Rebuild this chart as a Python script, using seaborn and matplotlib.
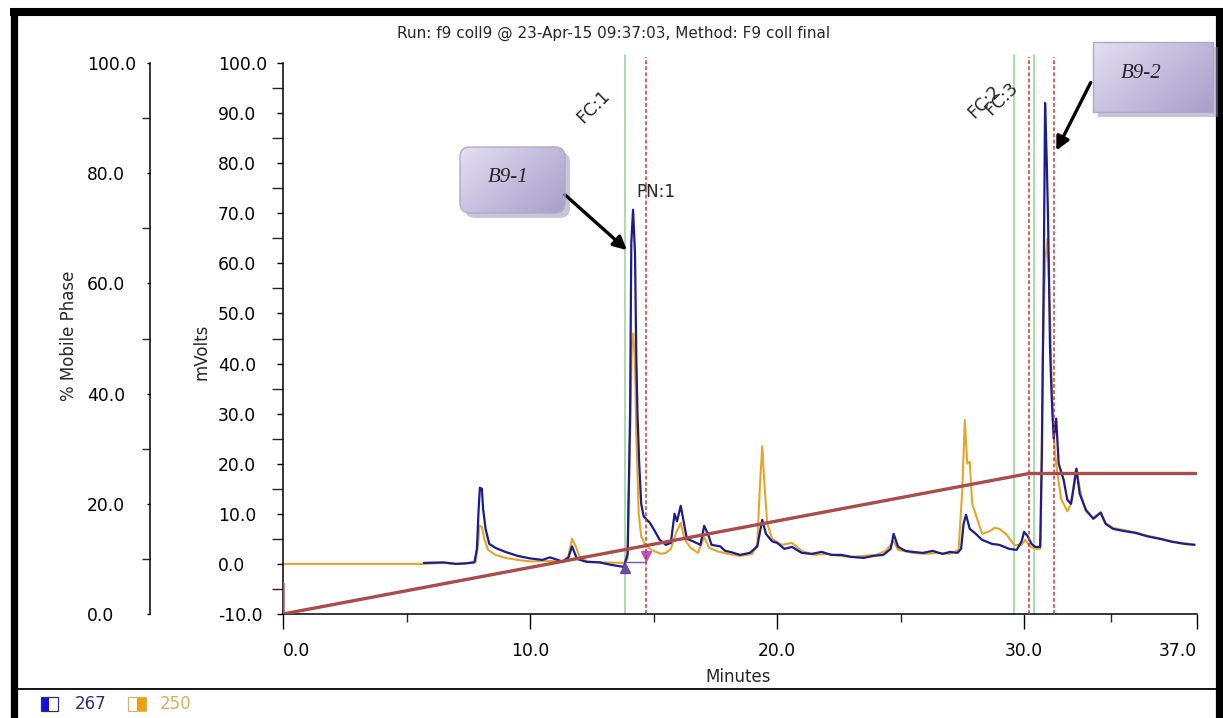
import numpy as np
import matplotlib
matplotlib.use("Agg")
import matplotlib.pyplot as plt
import seaborn as sns
from matplotlib.patches import FancyBboxPatch, Rectangle
from matplotlib.colors import LinearSegmentedColormap

# ---------------- data ----------------
t_267 = [5.7, 6.5, 7.0, 7.4, 7.75, 7.85, 7.92, 7.97, 8.05, 8.1, 8.2, 8.35, 8.6, 9.0, 9.5, 10.0,
         10.5, 10.8, 11.0, 11.3, 11.55, 11.7, 11.9, 12.3, 12.8, 13.3, 13.8, 13.95, 14.05, 14.1,
         14.17, 14.25, 14.3, 14.35, 14.42, 14.5, 14.6, 14.85, 15.0, 15.25, 15.5, 15.7, 15.85,
         15.95, 16.1, 16.2, 16.35, 16.6, 16.9, 17.05, 17.2, 17.35, 17.7, 17.9, 18.1, 18.5, 18.9,
         19.2, 19.4, 19.55, 19.8, 20.0, 20.3, 20.6, 21.0, 21.4, 21.8, 22.2, 22.6, 23.0, 23.5,
         23.9, 24.3, 24.6, 24.72, 24.9, 25.2, 25.5, 25.9, 26.3, 26.7, 27.0, 27.3, 27.45, 27.55,
         27.65, 27.8, 28.0, 28.3, 28.7, 29.0, 29.4, 29.7, 29.9, 30.0, 30.15, 30.3, 30.45, 30.65,
         30.72, 30.8, 30.85, 30.92, 30.97, 31.0, 31.05, 31.12, 31.2, 31.3, 31.4, 31.6, 31.75,
         31.9, 32.0, 32.12, 32.25, 32.5, 32.8, 33.1, 33.3, 33.6, 34.0, 34.5, 35.0, 35.5, 36.0,
         36.5, 36.9]
mv_267 = [0.2, 0.3, 0.0, 0.1, 0.3, 3.0, 11.0, 15.2, 15.0, 11.0, 7.0, 4.0, 3.2, 2.4, 1.6, 1.1,
          0.8, 1.3, 1.0, 0.5, 1.2, 3.5, 1.0, 0.4, 0.3, -0.2, -0.6, 2.0, 30.0, 64.0,
          70.7, 62.0, 42.0, 30.0, 20.0, 12.0, 9.5, 8.2, 7.0, 4.8, 3.8, 4.2, 10.0,
          8.5, 11.6, 9.0, 5.0, 4.5, 3.8, 7.6, 6.0, 3.8, 3.5, 2.6, 2.4, 1.8, 2.2,
          3.5, 8.8, 6.0, 4.5, 4.2, 3.0, 3.4, 2.2, 2.0, 2.4, 1.8, 1.8, 1.4, 1.2,
          1.6, 1.8, 3.0, 6.0, 3.4, 2.6, 2.4, 2.2, 2.6, 2.0, 2.4, 2.2, 3.0, 8.0,
          9.8, 7.0, 6.2, 4.8, 4.0, 3.8, 3.0, 2.8, 4.5, 6.4, 5.5, 4.0, 3.4, 3.4,
          22.0, 60.0, 92.0, 80.0, 69.0, 60.0, 43.0, 33.0, 25.0, 29.0, 20.0, 16.8, 12.8,
          12.0, 15.0, 19.0, 14.0, 10.8, 9.0, 10.2, 8.0, 7.0, 6.6, 6.2, 5.5, 5.0, 4.4,
          4.0, 3.8]

t_250 = [0.0, 5.7, 6.5, 7.0, 7.5, 7.8, 7.9, 7.95, 8.05, 8.15, 8.3, 8.6, 9.0, 9.5, 10.0, 10.8,
         11.3, 11.55, 11.7, 11.85, 12.0, 12.3, 13.0, 13.8, 13.95, 14.05, 14.12, 14.18, 14.25,
         14.3, 14.4, 14.5, 14.7, 15.0, 15.3, 15.5, 15.7, 15.9, 16.1, 16.25, 16.5, 16.8, 17.05,
         17.25, 17.6, 18.0, 18.5, 19.0, 19.2, 19.3, 19.4, 19.5, 19.6, 19.8, 20.2, 20.6, 21.0,
         21.5, 22.0, 22.5, 23.0, 23.5, 24.0, 24.4, 24.72, 24.9, 25.5, 26.0, 26.5, 27.0, 27.35,
         27.5, 27.6, 27.7, 27.8, 27.9, 28.1, 28.3, 28.6, 28.8, 29.0, 29.3, 29.6, 29.9, 30.05,
         30.25, 30.5, 30.65, 30.68, 30.75, 30.85, 30.95, 31.05, 31.15, 31.25, 31.35, 31.5,
         31.75, 31.9, 32.1, 32.3, 32.5, 32.8, 33.1, 33.3, 33.6, 34.0, 34.5, 35.0, 35.5, 36.0,
         36.5, 36.9]
mv_250 = [0.0, 0.0, 0.2, 0.0, 0.2, 0.5, 4.0, 7.6, 7.4, 5.0, 2.8, 1.8, 1.2, 0.8, 0.5, 0.6,
          0.4, 1.5, 5.0, 3.5, 1.5, 0.5, 0.3, 0.2, 1.0, 25.0, 44.0, 46.0, 40.0,
          26.0, 10.0, 5.5, 3.5, 2.6, 2.0, 2.2, 3.0, 6.0, 8.2, 5.0, 3.2, 2.2, 5.4,
          3.2, 2.5, 2.0, 1.6, 2.0, 4.0, 15.0, 23.5, 15.0, 8.2, 5.0, 3.8, 4.2, 2.6,
          1.8, 2.0, 1.6, 1.4, 1.6, 1.8, 2.6, 4.5, 2.8, 2.2, 2.0, 2.2, 2.0, 2.8,
          15.0, 28.7, 20.0, 20.4, 12.0, 9.0, 6.0, 6.5, 7.2, 7.0, 5.8, 3.8, 3.8, 4.8,
          3.4, 3.0, 3.0, 5.0, 40.0, 60.0, 65.0, 50.0, 30.0, 22.0, 18.0, 13.0,
          10.5, 12.0, 19.0, 14.0, 10.5, 9.2, 10.4, 8.2, 7.2, 6.8, 6.3, 5.6, 5.1, 4.5,
          4.1, 3.9]

grad_time = [0.0, 0.0, 30.2, 37.0]
grad_pct = [5.5, 0.0, 25.5, 25.5]

fc_green_t = [13.85, 29.6, 30.4]
fc_red_t = [14.7, 30.2, 31.2]
fc_labels = ["FC:1", "FC:2", "FC:3"]
fc_label_pos = [(12.55, 91.2), (28.4, 92.2), (29.1, 92.8)]

mv_ticks = list(range(-10, 101, 10))
pct_ticks = list(range(0, 101, 20))
min_ticks = [0, 10, 20, 30, 37]
min_minor = [5, 15, 25, 33.5]

title = "Run: f9 coll9 @ 23-Apr-15 09:37:03, Method: F9 coll final"

# ---------------- style ----------------
sns.set_style("white")
plt.rcParams['font.family'] = ['DejaVu Sans']

W, H = 1223, 718
fig = plt.figure(figsize=(W / 100, H / 100), dpi=100)
fig.patch.set_facecolor("white")

L, R, T, B = 283, 1197, 63, 614
ax = fig.add_axes([L / W, 1 - B / H, (R - L) / W, (B - T) / H])
ax.set_facecolor("none")

col_blue = "#1c1c8e"
col_orange = "#e4a62a"
col_grad = "#a84c4c"

sns.lineplot(x=t_250, y=mv_250, ax=ax, color=col_orange, lw=1.5, sort=False, estimator=None)
sns.lineplot(x=t_267, y=mv_267, ax=ax, color=col_blue, lw=1.6, sort=False, estimator=None)

ax.set_xlim(0, 37)
ax.set_ylim(-10, 100)

# vertical fraction markers
for t in fc_green_t:
    ax.plot([t, t], [-10, 101.6], color="#9ad89a", lw=1.2, clip_on=False, zorder=1)
for t in fc_red_t:
    ax.plot([t, t], [-10, 101.2], color="#c23a3a", lw=1.1, ls=(0, (2.5, 1.5)), clip_on=False, zorder=4)
for lab, (tx, ty) in zip(fc_labels, fc_label_pos):
    ax.text(tx, ty, lab, rotation=45, ha="center", va="center", fontsize=12.5, clip_on=False)
ax.text(15.1, 74.3, "PN:1", ha="center", va="center", fontsize=12)

# peak markers
ax.plot([13.85, 14.7], [0.4, 0.4], color="#7a50b0", lw=1.0)
ax.plot([13.85], [-0.8], marker="^", color="#6848a8", ms=7, ls="none")
ax.plot([14.7], [1.6], marker="v", color="#c050c8", ms=7, ls="none")

# spines & ticks of main axis
for s in ["top", "right"]:
    ax.spines[s].set_visible(False)
for s in ["left", "bottom"]:
    ax.spines[s].set_color("black")
    ax.spines[s].set_linewidth(1.1)
ax.set_yticks(mv_ticks)
ax.set_yticklabels([f"{v:.1f}" for v in mv_ticks], ha="left")
ax.set_yticks([v + 5 for v in mv_ticks[:-1]], minor=True)
ax.tick_params(axis="y", which="major", direction="out", length=4.3, width=1, pad=42.5,
               labelsize=12.3, colors="black", left=True)
ax.tick_params(axis="y", which="minor", direction="out", length=8, width=1, left=True)
ax.set_xticks(min_ticks)
ax.set_xticklabels([f"{v:.1f}" for v in min_ticks], fontsize=12.3)
ax.set_xticks(min_minor, minor=True)
ax.tick_params(axis="x", which="major", direction="out", length=11, width=1, pad=9,
               labelsize=12.3, colors="black", bottom=True)
ax.tick_params(axis="x", which="minor", direction="out", length=5.5, width=1, bottom=True)
xl = ax.get_xticklabels()
xl[0].set_ha("left")
xl[-1].set_ha("right")
ax.set_ylabel("mVolts", fontsize=12)
ax.yaxis.set_label_coords(-0.079, 0.4755)
ax.set_xlabel("Minutes", fontsize=12, va="top")
ax.xaxis.set_label_coords(0.498, -0.098)

# mobile phase axis
ax2 = ax.twinx()
sns.lineplot(x=grad_time, y=grad_pct, ax=ax2, color=col_grad, lw=2.4, sort=False, estimator=None)
ax2.set_ylim(0, 100)
ax2.set_xlim(0, 37)
for s in ["top", "right", "bottom"]:
    ax2.spines[s].set_visible(False)
ax2.spines["left"].set_visible(True)
ax2.spines["left"].set_linewidth(1.1)
ax2.spines["left"].set_color("black")
ax2.spines["left"].set_position(("axes", (150 - 283) / 914))
ax2.yaxis.set_ticks_position("left")
ax2.yaxis.set_label_position("left")
ax2.set_yticks(pct_ticks)
ax2.set_yticklabels([f"{v:.1f}" for v in pct_ticks], ha="left")
ax2.set_yticks([v + 10 for v in pct_ticks[:-1]], minor=True)
ax2.tick_params(axis="y", which="major", direction="out", length=2.2, width=1, pad=43.2,
                labelsize=12.3, colors="black", left=True, right=False)
ax2.tick_params(axis="y", which="minor", direction="out", length=5.8, width=1, left=True, right=False)
ax2.set_ylabel("% Mobile Phase", fontsize=12)
ax2.yaxis.set_label_coords(-0.2243, 0.5045)

fig.text(614 / W, 1 - 33 / H, title, ha="center", va="center", fontsize=11)

# ---------------- overlay (frame, callouts, legend) ----------------
oax = fig.add_axes([0, 0, 1, 1])
oax.set_zorder(10)
oax.patch.set_visible(False)
oax.axis("off")

# frame
oax.plot([13.5, 13.5], [8, 718], color="black", lw=5.2, solid_capstyle="butt")
oax.plot([10, 1223], [12, 12], color="black", lw=5.8, solid_capstyle="butt")
oax.plot([1219, 1219], [8, 718], color="black", lw=5.2, solid_capstyle="butt")
oax.plot([17, 1216], [689, 689], color="black", lw=1.3)

cm_lav = LinearSegmentedColormap.from_list("lav", ["#e4dff2", "#c5bddd", "#a99fcb"])


def callout(x0, y0, w, h, text, tx, ty, rounded):
    style = "round,pad=0,rounding_size=10" if rounded else "square,pad=0"
    sh = FancyBboxPatch((x0 + 5, y0 + 5), w, h, boxstyle=style, fc="#938db0", ec="none",
                        alpha=0.5, zorder=2)
    oax.add_patch(sh)
    box = FancyBboxPatch((x0, y0), w, h, boxstyle=style, fc="none", ec="#b0a8cc", lw=1.0,
                         zorder=4)
    oax.add_patch(box)
    gx, gy = np.meshgrid(np.linspace(0, 1, 64), np.linspace(0, 1, 64))
    g = 0.6 * gx + 0.4 * gy
    im = oax.imshow(g, extent=[x0, x0 + w, y0 + h, y0], cmap=cm_lav, aspect="auto",
                    origin="upper", zorder=3)
    im.set_clip_path(box)
    oax.text(tx, ty, text, ha="center", va="center", fontsize=15, style="italic",
             family="Liberation Serif", zorder=5)


callout(460, 147, 105, 66, "B9-1", 508, 178, True)
callout(1093, 42, 120, 70, "B9-2", 1141, 74, False)

oax.annotate("", xy=(629, 252), xytext=(563, 193),
             arrowprops=dict(arrowstyle="-|>", color="black", lw=2.4, mutation_scale=20))
oax.annotate("", xy=(1055, 153), xytext=(1092, 80),
             arrowprops=dict(arrowstyle="-|>", color="black", lw=2.4, mutation_scale=20))

# legend
oax.add_patch(Rectangle((41, 697), 8, 14, fc="#1010d8", ec="none"))
oax.add_patch(Rectangle((41, 697), 17, 14, fc="none", ec="#303060", lw=0.9))
oax.text(75, 704, "267", color="#2a2a80", fontsize=12, va="center", ha="left")
oax.add_patch(Rectangle((137, 697), 9, 14, fc="#f4a000", ec="none"))
oax.add_patch(Rectangle((128, 697), 18, 14, fc="none", ec="#d8b070", lw=0.9))
oax.text(160, 704, "250", color="#d4b060", fontsize=12, va="center", ha="left")

oax.set_xlim(0, W)
oax.set_ylim(H, 0)

fig.savefig("out.png", dpi=100, facecolor="white")
